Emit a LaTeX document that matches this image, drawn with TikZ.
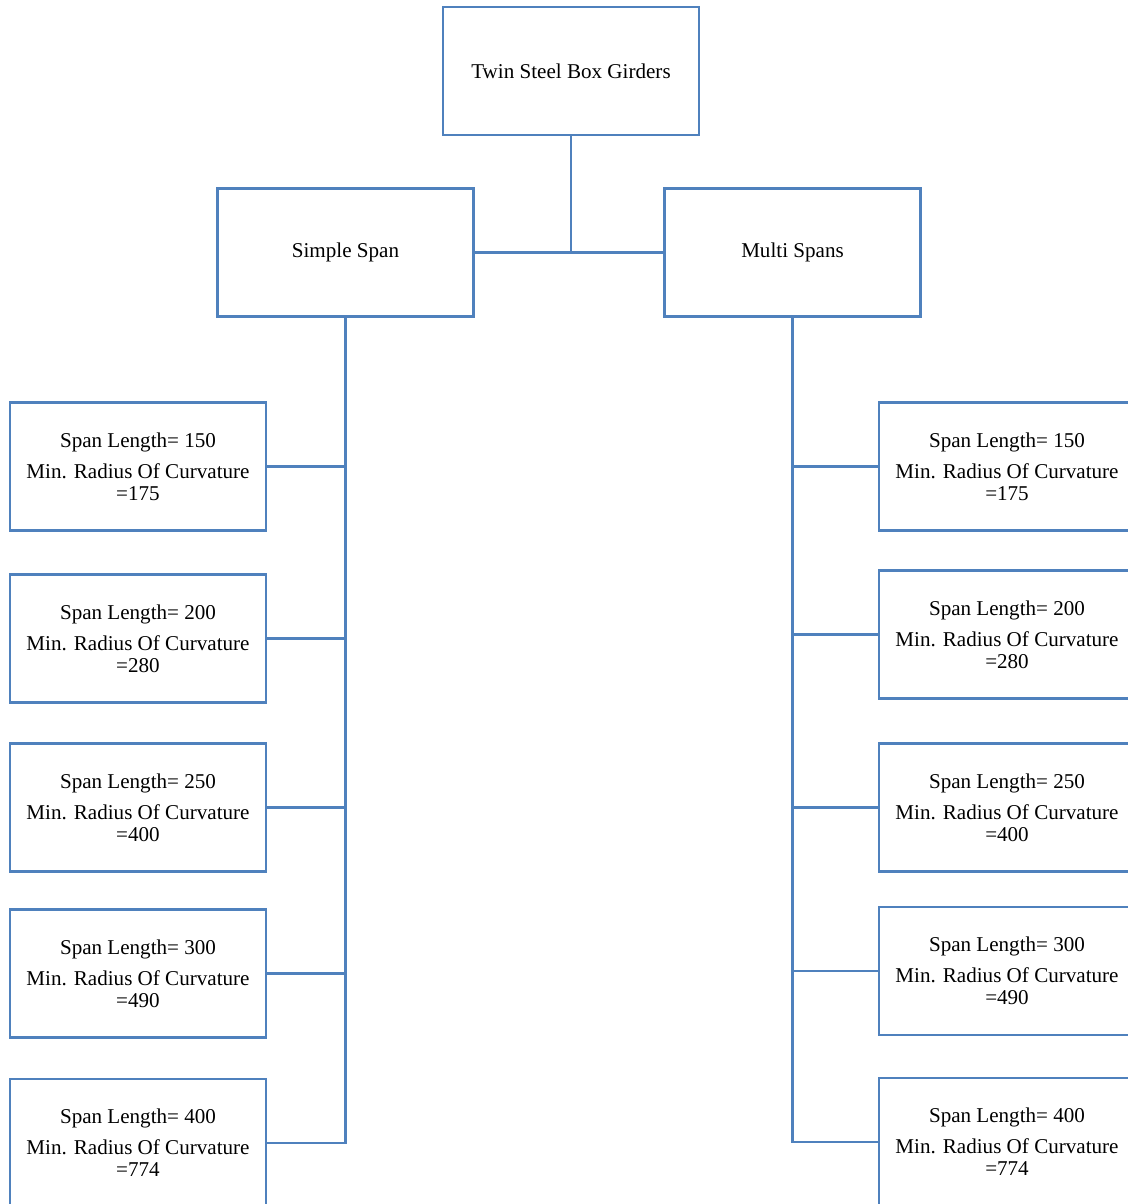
\documentclass[tikz,border=0pt]{standalone}
\usepackage{fontspec}
\setmainfont{Liberation Serif}
\definecolor{boxblue}{RGB}{79,129,189}
\tikzset{
  box/.style={draw=boxblue, line width=1.6pt, rectangle, inner sep=0pt,
    minimum width=5.12cm, minimum height=2.56cm, align=center,
    font=\fontsize{12}{12.5}\selectfont},
  link/.style={draw=boxblue, line width=1.6pt}
}
\newcommand{\spanbox}[2]{Span Length= #1\\[5pt]Min. Radius Of Curvature\\=#2}
\begin{document}
\begin{tikzpicture}[x=0.02cm,y=-0.02cm]
      \useasboundingbox (0,0) rectangle (1128,1204);
      \clip (0,0) rectangle (1128,1204);
      \path
        (571,71) node[box] (top){Twin Steel Box Girders}
        (345.5,252.5) node[box] (simple){Simple Span}
        (792.5,252.5) node[box] (multi){Multi Spans}
        (138,466.5) node[box] (s1){\spanbox{150}{175}}
        (138,638.5) node[box] (s2){\spanbox{200}{280}}
        (138,807.5) node[box] (s3){\spanbox{250}{400}}
        (138,973.5) node[box] (s4){\spanbox{300}{490}}
        (138,1143) node[box] (s5){\spanbox{400}{774}}
        (1007,466.5) node[box] (m1){\spanbox{150}{175}}
        (1007,634.5) node[box] (m2){\spanbox{200}{280}}
        (1007,807.5) node[box] (m3){\spanbox{250}{400}}
        (1007,971) node[box] (m4){\spanbox{300}{490}}
        (1007,1142) node[box] (m5){\spanbox{400}{774}};
      \begin{scope}[link]
        \draw (simple) to (multi);
        \draw (top) to (top |- simple);
        \draw (simple.south) |- (s5.east);
        \draw (s1.east) to (s1 -| simple);
        \draw (s2.east) to (s2 -| simple);
        \draw (s3.east) to (s3 -| simple);
        \draw (s4.east) to (s4 -| simple);
        \draw (multi.south) |- (m5.west);
        \draw (m1.west) to (m1 -| multi);
        \draw (m2.west) to (m2 -| multi);
        \draw (m3.west) to (m3 -| multi);
        \draw (m4.west) to (m4 -| multi);
      \end{scope}
    \end{tikzpicture}
\end{document}
